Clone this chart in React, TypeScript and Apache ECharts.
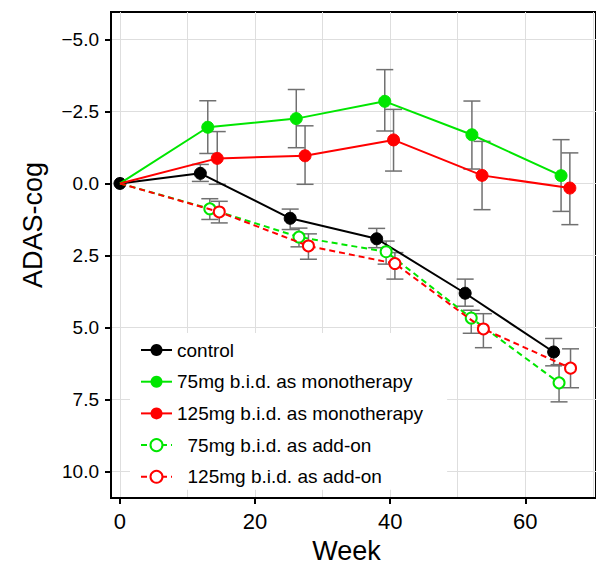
import React, { useEffect, useRef } from 'react';
import * as echarts from 'echarts';

const seriesNames = [
  'control',
  '75mg b.i.d. as monotherapy',
  '125mg b.i.d. as monotherapy',
  '75mg b.i.d. as add-on',
  '125mg b.i.d. as add-on',
];

// week positions (dodged), means, and error-bar bounds (null = no bar)
const controlWeeks = [0, 11.9, 25.2, 38.0, 51.1, 64.2];
const controlMean = [0, -0.35, 1.21, 1.92, 3.81, 5.85];
const controlLow = [null, -0.66, 0.89, 1.56, 3.32, 5.38];
const controlHigh = [null, -0.07, 1.6, 2.23, 4.26, 6.33];

const mono75Weeks = [0, 13.0, 26.1, 39.2, 52.1, 65.3];
const mono75Mean = [0, -1.95, -2.25, -2.85, -1.69, -0.27];
const mono75Low = [null, -2.87, -3.26, -3.95, -2.86, -1.52];
const mono75High = [null, -1.04, -1.24, -1.82, -0.5, 0.97];

const mono125Weeks = [0, 14.4, 27.4, 40.5, 53.6, 66.6];
const mono125Mean = [0, -0.87, -0.96, -1.51, -0.28, 0.16];
const mono125Low = [null, -1.8, -2.0, -2.57, -1.46, -1.06];
const mono125High = [null, 0.03, 0.03, -0.43, 0.91, 1.43];

const addon75Weeks = [0, 13.3, 26.5, 39.4, 52.0, 65.0];
const addon75Mean = [0, 0.88, 1.86, 2.37, 4.67, 6.92];
const addon75Low = [null, 0.53, 1.55, 2.0, 4.4, 6.29];
const addon75High = [null, 1.25, 2.2, 2.8, 5.2, 7.58];

const addon125Weeks = [0, 14.7, 27.9, 40.7, 53.8, 66.7];
const addon125Mean = [0, 0.99, 2.17, 2.78, 5.05, 6.41];
const addon125Low = [null, 0.62, 1.75, 2.4, 4.52, 5.74];
const addon125High = [null, 1.37, 2.63, 3.32, 5.7, 7.09];

const xTickValues = [0, 20, 40, 60];
const xGridValues = [0, 10, 20, 30, 40, 50, 60, 70];
const yTickValues = [-5, -2.5, 0, 2.5, 5, 7.5, 10];

const FONT = '"Liberation Sans", Arial, Helvetica, sans-serif';
const GREEN = '#00e600';
const RED = '#ff0000';
const BLACK = '#000000';

type Group = {
  name: string;
  weeks: number[];
  mean: number[];
  low: (number | null)[];
  high: (number | null)[];
  color: string;
  hollow: boolean;
};

const groups: Group[] = [
  { name: seriesNames[0], weeks: controlWeeks, mean: controlMean, low: controlLow, high: controlHigh, color: BLACK, hollow: false },
  { name: seriesNames[1], weeks: mono75Weeks, mean: mono75Mean, low: mono75Low, high: mono75High, color: GREEN, hollow: false },
  { name: seriesNames[2], weeks: mono125Weeks, mean: mono125Mean, low: mono125Low, high: mono125High, color: RED, hollow: false },
  { name: seriesNames[3], weeks: addon75Weeks, mean: addon75Mean, low: addon75Low, high: addon75High, color: GREEN, hollow: true },
  { name: seriesNames[4], weeks: addon125Weeks, mean: addon125Mean, low: addon125Low, high: addon125High, color: RED, hollow: true },
];

export default function App() {
  const ref = useRef<HTMLDivElement | null>(null);

  useEffect(() => {
    if (!ref.current) return;
    const chart = echarts.init(ref.current, null, { renderer: 'svg' });

    const errData: number[][] = [];
    groups.forEach((g) => {
      g.weeks.forEach((w, i) => {
        const lo = g.low[i];
        const hi = g.high[i];
        if (lo !== null && hi !== null) errData.push([w, lo, hi]);
      });
    });

    const lineSeries = groups.map((g, gi) => ({
      name: g.name,
      type: 'line',
      xAxisIndex: 0,
      yAxisIndex: 0,
      z: 3 + gi,
      symbol: g.hollow ? 'emptyCircle' : 'circle',
      symbolSize: g.hollow ? 11 : 12,
      showSymbol: true,
      color: g.color,
      itemStyle: { color: g.color, borderColor: g.color },
      lineStyle: { color: g.color, width: 2, type: g.hollow ? [6, 4] : 'solid' },
      data: g.weeks.map((w, i) =>
        i === 0 && gi !== 0 ? { value: [w, g.mean[i]], symbol: 'none' } : [w, g.mean[i]]
      ),
    }));

    const option: any = {
      animation: false,
      backgroundColor: '#ffffff',
      grid: {
        left: 111,
        top: 12,
        right: -2,
        bottom: 66,
        show: true,
        borderColor: '#000',
        borderWidth: 2,
        backgroundColor: 'transparent',
      },
      legend: {
        data: seriesNames,
        orient: 'vertical',
        left: 130,
        top: 333,
        backgroundColor: '#ffffff',
        padding: [7, 24, 3, 10],
        itemWidth: 31,
        itemHeight: 15,
        itemGap: 11.7,
        formatter: (name: string) => (name.indexOf('add-on') >= 0 ? '  ' + name : name),
        textStyle: { fontSize: 19, lineHeight: 20, color: '#000', fontFamily: FONT },
        selectedMode: false,
      },
      xAxis: [
        {
          type: 'value',
          min: -1.327,
          max: 70.47,
          name: 'Week',
          nameLocation: 'middle',
          nameGap: 37,
          nameTextStyle: { fontSize: 27, color: '#000', fontFamily: FONT, padding: [0, 14, 0, 0] },
          axisLine: { show: true, onZero: false, lineStyle: { color: '#000', width: 2 } },
          axisTick: { show: true, length: 6, customValues: xTickValues, lineStyle: { color: '#000', width: 2 } },
          axisLabel: {
            customValues: xTickValues,
            margin: 12,
            fontSize: 22,
            color: '#000',
            fontFamily: FONT,
            formatter: (v: number) => String(v),
          },
          splitLine: { show: false },
        },
        {
          type: 'value',
          min: -1.327,
          max: 70.47,
          position: 'bottom',
          axisLine: { show: false },
          axisTick: { show: false, customValues: xGridValues },
          axisLabel: { show: false, customValues: xGridValues },
          splitLine: { show: true, lineStyle: { color: '#dedede', width: 1 } },
        },
      ],
      yAxis: {
        type: 'value',
        inverse: true,
        min: -5.95,
        max: 10.92,
        name: 'ADAS-cog',
        nameLocation: 'middle',
        nameGap: 65,
        nameTextStyle: { fontSize: 27, color: '#000', fontFamily: FONT, padding: [0, 0, 0, 60] },
        axisLine: { show: true, onZero: false, lineStyle: { color: '#000', width: 2 } },
        axisTick: { show: true, length: 6, customValues: yTickValues, lineStyle: { color: '#000', width: 2 } },
        axisLabel: {
          customValues: yTickValues,
          margin: 12,
          fontSize: 19,
          color: '#000',
          fontFamily: FONT,
          formatter: (v: number) => (v < 0 ? '\u2212' : '') + Math.abs(v).toFixed(1),
        },
        splitLine: { show: true, lineStyle: { color: '#dedede', width: 1 } },
      },
      series: [
        {
          name: 'errorbars',
          type: 'custom',
          xAxisIndex: 0,
          yAxisIndex: 0,
          z: 2,
          encode: { x: 0, y: [1, 2] },
          data: errData,
          renderItem: (params: any, api: any) => {
            const x = api.value(0);
            const p1 = api.coord([x, api.value(1)]);
            const p2 = api.coord([x, api.value(2)]);
            const hw = 8.5;
            const style = { stroke: '#707070', lineWidth: 1.5 };
            return {
              type: 'group',
              children: [
                { type: 'line', shape: { x1: p1[0], y1: p1[1], x2: p2[0], y2: p2[1] }, style },
                { type: 'line', shape: { x1: p1[0] - hw, y1: p1[1], x2: p1[0] + hw, y2: p1[1] }, style },
                { type: 'line', shape: { x1: p2[0] - hw, y1: p2[1], x2: p2[0] + hw, y2: p2[1] }, style },
              ],
            };
          },
        },
        ...lineSeries,
      ],
    };

    chart.setOption(option);
    return () => chart.dispose();
  }, []);

  return (
    <div
      ref={ref}
      style={{ position: 'fixed', left: 0, top: 0, width: 596, height: 569, background: '#fff' }}
    />
  );
}
